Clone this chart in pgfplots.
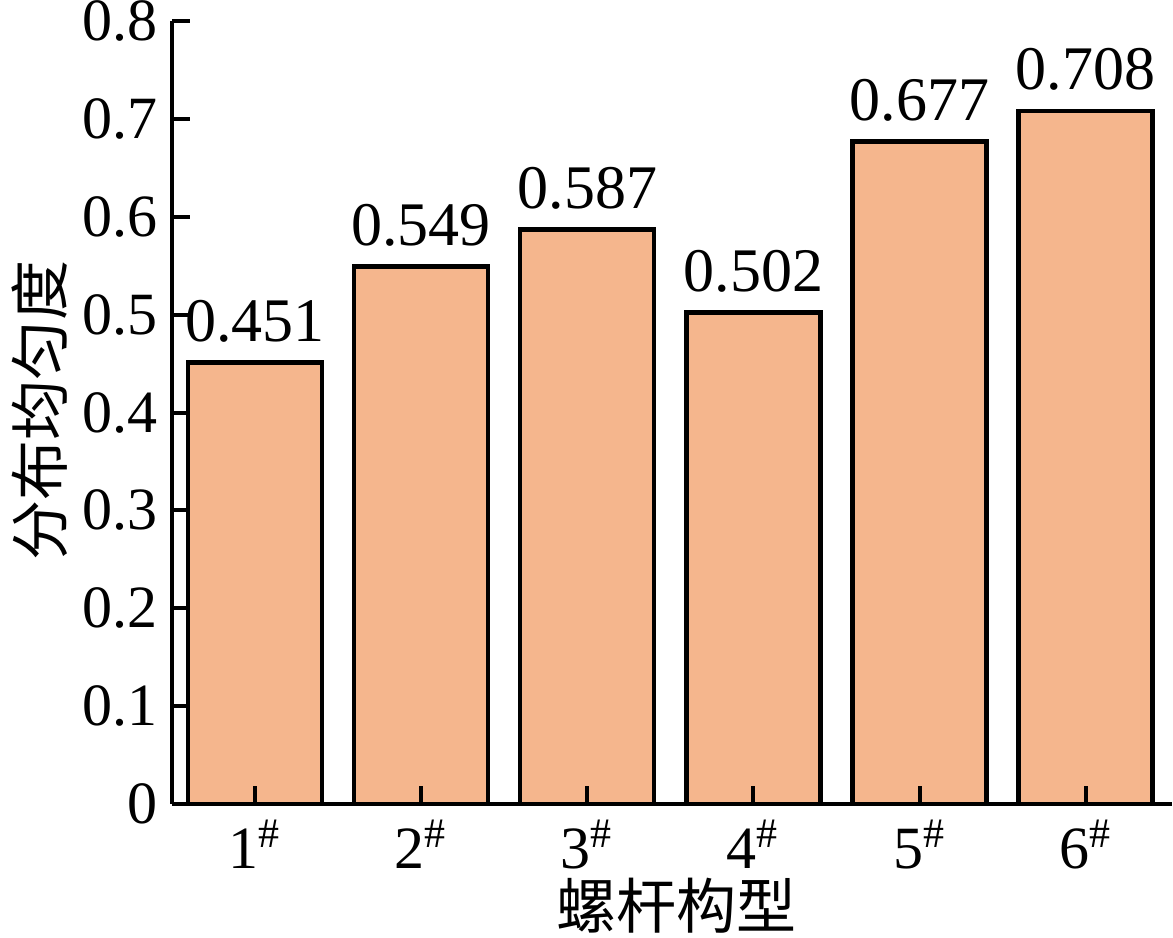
\documentclass[border=0pt]{standalone}
\usepackage{fontspec}
\setmainfont{Liberation Serif}
\newfontfamily\cjk{Noto Sans CJK SC}
\usepackage{pgfplots}
\pgfplotsset{compat=1.18}
\definecolor{barfill}{RGB}{245,182,141}
\begin{document}
\begin{tikzpicture}
\useasboundingbox (-43pt,-33.5pt) rectangle (250.25pt,201pt);
\begin{axis}[
  at={(0,0)}, anchor=south west,
  scale only axis,
  width=250pt, height=195.75pt,
  xmin=0.5, xmax=6.52,
  ymin=0, ymax=0.8,
  axis lines=left,
  axis line style={-, line width=1.2pt, draw=black},
  axis on top,
  tick align=inside,
  major tick length=4.5pt,
  tick style={line width=1pt, draw=black},
  xtick style={line width=1pt, draw=black, yshift=4.5pt},
  xtick={1,2,3,4,5,6},
  xticklabels={\mbox{1\textsuperscript{\#}},\mbox{2\textsuperscript{\#}},\mbox{3\textsuperscript{\#}},\mbox{4\textsuperscript{\#}},\mbox{5\textsuperscript{\#}},\mbox{6\textsuperscript{\#}}},
  ytick={0,0.1,0.2,0.3,0.4,0.5,0.6,0.7,0.8},
  /pgf/number format/assume math mode=true,
  yticklabel style={/pgf/number format/fixed, /pgf/number format/precision=1, font=\fontsize{15pt}{18pt}\selectfont},
  xticklabel style={font=\fontsize{15pt}{18pt}\selectfont, anchor=north, yshift=4pt},
  xlabel={\cjk 螺杆构型},
  ylabel={\cjk 分布均匀度},
  label style={font=\fontsize{15pt}{18pt}\selectfont},
  xlabel style={at={(axis description cs:0.5045,-0.13)}, anchor=center},
  ylabel style={at={(axis description cs:-0.132,0.503)}, anchor=center, rotate=0},
  ybar, bar width=33.5pt,
  nodes near coords,
  nodes near coords style={font=\fontsize{15.5pt}{18pt}\selectfont, anchor=south, inner sep=0pt, yshift=4.5pt,
    /pgf/number format/fixed, /pgf/number format/precision=3, /pgf/number format/fixed zerofill},
]
\addplot[fill=barfill, draw=black, line width=1.1pt] coordinates {
  (1,0.451) (2,0.549) (3,0.587) (4,0.502) (5,0.677) (6,0.708)
};
\end{axis}
\end{tikzpicture}
\end{document}
